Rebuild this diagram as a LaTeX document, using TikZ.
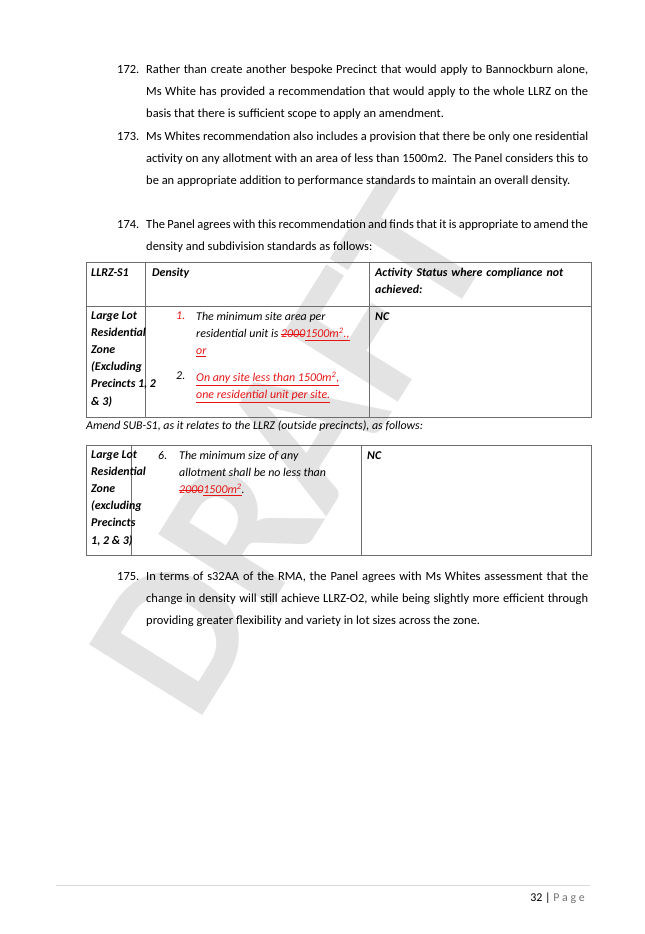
\documentclass[tikz,border=0pt]{standalone}
\usepackage{fontspec}
\setmainfont{Carlito}
\usepackage{xcolor}
\usetikzlibrary{positioning}
\definecolor{insred}{RGB}{230,20,20}
\definecolor{rulegray}{RGB}{110,110,110}
\newlength{\delwd}
\newcommand{\ins}[1]{{\color{insred}\underline{#1}}}
\newcommand{\del}[1]{\settowidth{\delwd}{#1}{\color{insred}\rlap{\rule[0.28em]{\delwd}{0.45pt}}#1}}
\tikzset{
  para/.style={anchor=north west, text width=442*0.923pt, align=justify, inner sep=0pt,
    font=\fontsize{11.5}{20.3}\selectfont},
  num/.style={anchor=north west, inner sep=0pt, font=\fontsize{11.5}{20.3}\selectfont},
  cell/.style={anchor=north west, inner sep=0pt, align=left,
    font=\fontsize{11}{15.7}\selectfont\bfseries\itshape},
  celltxt/.style={anchor=north west, inner sep=0pt, align=left,
    font=\fontsize{11}{15.7}\selectfont\itshape},
  grid/.style={draw=rulegray, line width=0.7pt},
}
\begin{document}
\begin{tikzpicture}[x=0.923pt,y=-0.923pt]
\useasboundingbox (0,0) rectangle (645,934);
% watermark
\node[rotate=58, text=black!11, font=\fontsize{190}{190}\selectfont\bfseries, inner sep=0pt]
  (wm) at (290,450) {DRAFT};
% paragraphs
\node[num] (n172) at (117,65) {172.};
\node[para] (p172) at (146,65) {Rather than create another bespoke Precinct that would apply to Bannockburn alone, Ms White has provided a recommendation that would apply to the whole LLRZ on the basis that there is sufficient scope to apply an amendment.};
\node[num] (n173) at (117,132) {173.};
\node[para] (p173) at (146,132) {Ms Whites recommendation also includes a provision that there be only one residential activity on any allotment with an area of less than 1500m2.\ \ The Panel considers this to be an appropriate addition to performance standards to maintain an overall density.};
\node[num] (n174) at (117,220) {174.};
\node[para] (p174) at (146,220) {The Panel agrees with this recommendation and finds that it is appropriate to amend the density and subdivision standards as follows:};
% table 1
\draw[grid] (86,262) rectangle (591,417);
\draw[grid] (86,306) -- (591,306);
\draw[grid] (145,262) -- (145,417);
\draw[grid] (369,262) -- (369,417);
\node[cell] (h1) at (91,268) {LLRZ-S1};
\node[cell] (h2) at (152,268) {Density};
\node[cell, text width=215*0.923pt] (h3) at (375,268) {Activity Status where compliance not achieved:};
\node[cell] (zone1) at (91,312) {Large Lot\\Residential\\Zone\\(Excluding\\Precincts 1, 2\\\& 3)};
\node[celltxt] (i1) at (176,312) {\color{insred}1.};
\node[celltxt] (d1) at (196,312) {The minimum site area per\\residential unit is \del{2000}\ins{1500m\textsuperscript{2}.,}\\\ins{or}};
\node[celltxt] (i2) at (176,372) {2.};
\node[celltxt] (d2) at (196,372) {\ins{On any site less than 1500m\textsuperscript{2},}\\\ins{one residential unit per site.}};
\node[cell] (nc1) at (375,312) {NC};
\node[celltxt, anchor=north west] (cap) at (86,421) {Amend SUB-S1, as it relates to the LLRZ (outside precincts), as follows:};
% table 2
\draw[grid] (86,445) rectangle (591,555);
\draw[grid] (131,445) -- (131,555);
\draw[grid] (361,445) -- (361,555);
\node[cell] (zone2) at (91,451) {Large Lot\\Residential\\Zone\\(excluding\\Precincts\\1, 2 \& 3)};
\node[celltxt] (i6) at (158,451) {6.};
\node[celltxt] (d6) at (179,451) {The minimum size of any\\allotment shall be no less than\\\del{2000}\ins{1500m\textsuperscript{2}}.};
\node[cell] (nc2) at (367,451) {NC};
% paragraph 175
\node[num] (n175) at (117,572) {175.};
\node[para] (p175) at (146,572) {In terms of s32AA of the RMA, the Panel agrees with Ms Whites assessment that the change in density will still achieve LLRZ-O2, while being slightly more efficient through providing greater flexibility and variety in lot sizes across the zone.};
% footer
\draw[black!15, line width=0.6pt] (56,885) -- (590,885);
\node[anchor=east, inner sep=0pt, font=\fontsize{11}{13}\selectfont] (pg) at (585,898)
  {32 | {\color{black!55}P a g e}};
\end{tikzpicture}
\end{document}
